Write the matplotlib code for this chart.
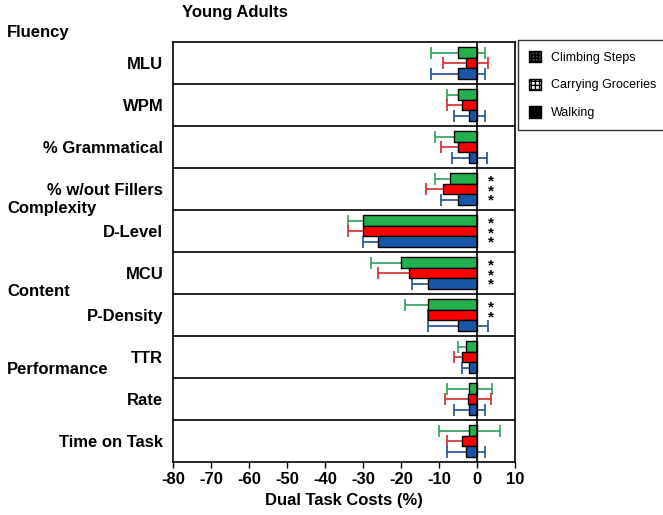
import numpy as np
import matplotlib.pyplot as plt
from matplotlib.patches import Patch

plt.rcParams['font.family'] = ['Liberation Sans', 'DejaVu Sans']
plt.rcParams['font.weight'] = 'bold'
plt.rcParams['axes.labelweight'] = 'bold'
plt.rcParams['axes.unicode_minus'] = False

measures = ["MLU", "WPM", "% Grammatical", "% w/out Fillers", "D-Level",
            "MCU", "P-Density", "TTR", "Rate", "Time on Task"]

# dual task costs (%) and error half-widths
climbing = [-5, -5, -6, -7, -30, -20, -13, -3, -2, -2]
climbing_err = [7, 3, 5, 4, 4, 8, 6, 2, 6, 8]
groceries = [-3, -4, -5, -9, -30, -18, -13, -4, -2.3, -4]
groceries_err = [6, 4, 4.5, 4.5, 4, 8, 0, 2, 6, 4]
walking = [-5, -2, -2, -5, -26, -13, -5, -2, -2, -3]
walking_err = [7, 4, 4.5, 4.5, 4, 4, 8, 2, 4, 5]

stars = [0, 0, 0, 3, 3, 3, 2, 0, 0, 0]

groups = [("Fluency", 33), ("Complexity", 208), ("Content", 291), ("Performance", 370)]

W, H = 663, 515
fig = plt.figure(figsize=(W / 100, H / 100), dpi=100)
ax = fig.add_axes([173 / W, 1 - 462 / H, (515 - 173) / W, (462 - 42) / H])

y = np.arange(len(measures))
h = 0.25
series = [
    (climbing, climbing_err, "#22b14c", "#2e9e5b", -h, "Climbing Steps"),
    (groceries, groceries_err, "#ff0000", "#d42a2a", 0, "Carrying Groceries"),
    (walking, walking_err, "#1a56a8", "#1f4f8f", h, "Walking"),
]
for vals, errs, col, ecol, off, lab in series:
    ax.errorbar(vals, y + off, xerr=errs, fmt='none', ecolor=ecol,
                elinewidth=1.2, capsize=4, capthick=1.2, zorder=1)
    ax.barh(y + off, vals, height=h, color=col, edgecolor='black',
            linewidth=1, zorder=2)

# significance stars, one stacked text per measure
for i, n in enumerate(stars):
    if n:
        ax.text(3.8, i - h - 0.1, "\n".join(["*"] * n), ha='center', va='top',
                fontsize=11, linespacing=0.62, zorder=3)

ax.axvline(0, color='black', lw=1.2, zorder=3)
for b in np.arange(0.5, len(measures) - 0.5, 1):
    ax.axhline(b, color='black', lw=1.2, zorder=3)

ax.set_xlim(-80, 10)
ax.set_ylim(len(measures) - 0.5, -0.5)
ax.set_xticks(np.arange(-80, 11, 10))
ax.tick_params(axis='x', labelsize=12, direction='out', length=4, width=1)
ax.set_yticks(y)
ax.set_yticklabels(measures, fontsize=12)
ax.tick_params(axis='y', length=0, pad=7)
for sp in ax.spines.values():
    sp.set_linewidth(1.2)
ax.set_xlabel("Dual Task Costs (%)", fontsize=12, labelpad=4)

for name, py in groups:
    fig.text(7 / W, 1 - py / H, name, fontsize=12, va='center', ha='left')
fig.text(235 / W, 1 - 12 / H, "Young Adults", fontsize=12, va='center', ha='center')

handles = [Patch(facecolor='#444444', edgecolor='black', hatch='+++++'),
           Patch(facecolor='white', edgecolor='black', hatch='++++'),
           Patch(facecolor='black', edgecolor='black')]
leg = fig.legend(handles, ["Climbing Steps", "Carrying Groceries", "Walking"],
                 loc='upper left', bbox_to_anchor=(518 / W, 1 - 40 / H),
                 borderaxespad=0, frameon=True, fancybox=False, edgecolor='black',
                 prop={'weight': 'normal', 'size': 9}, handlelength=1.0,
                 handleheight=1.0, labelspacing=1.2, borderpad=0.85,
                 handletextpad=0.8)
leg.get_frame().set_linewidth(1)

fig.savefig("out.png", dpi=100)
